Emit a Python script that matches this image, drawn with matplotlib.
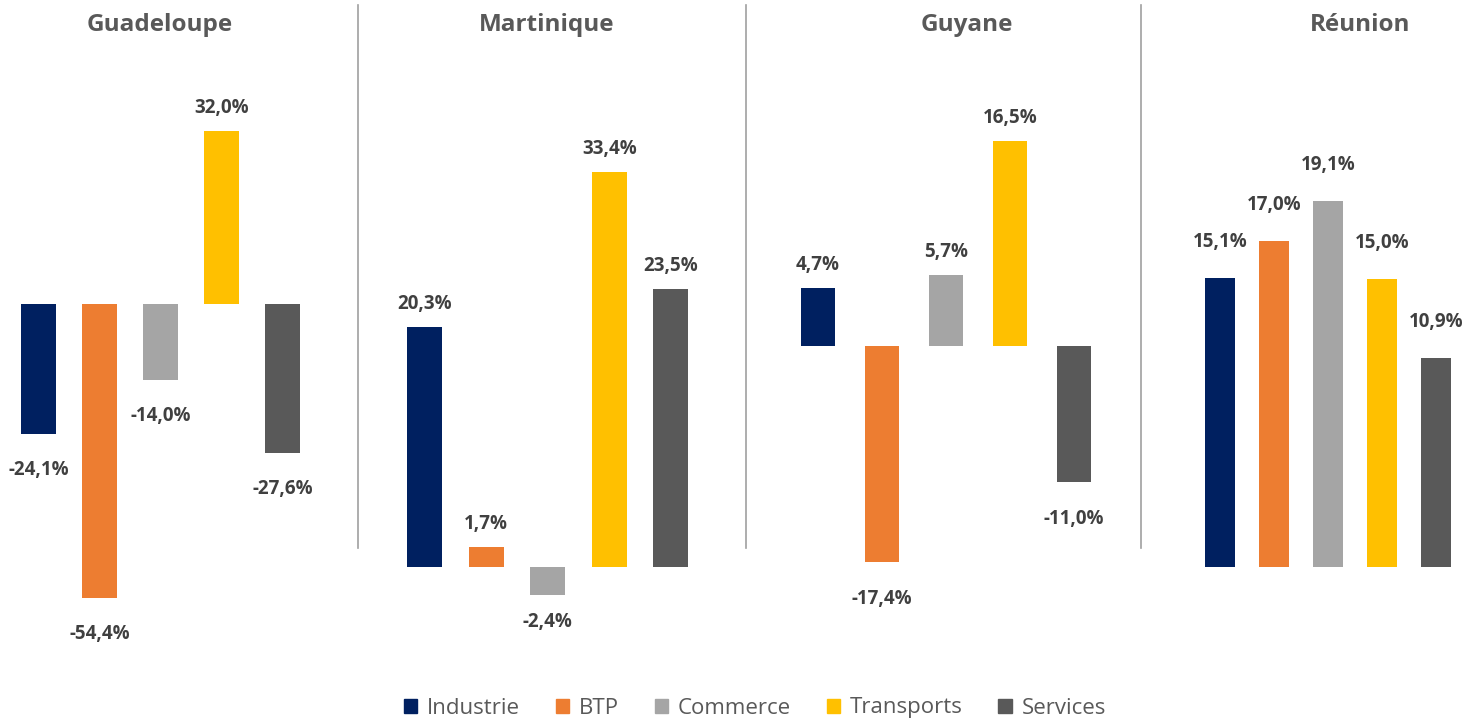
import matplotlib
matplotlib.use("Agg")
import matplotlib.pyplot as plt
from matplotlib.lines import Line2D
from matplotlib.patches import Patch

plt.rcParams['font.family'] = ['Open Sans', 'DejaVu Sans']

regions = ['Guadeloupe', 'Martinique', 'Guyane', 'Réunion']
sectors = ['Industrie', 'BTP', 'Commerce', 'Transports', 'Services']
guadeloupe = [-24.1, -54.4, -14.0, 32.0, -27.6]
martinique = [20.3, 1.7, -2.4, 33.4, 23.5]
guyane = [4.7, -17.4, 5.7, 16.5, -11.0]
reunion = [15.1, 17.0, 19.1, 15.0, 10.9]
series = [guadeloupe, martinique, guyane, reunion]

colors = ['#002060', '#ED7D31', '#A5A5A5', '#FFC000', '#595959']

W, H = 1479, 725
# panel layout in pixels: left, right, zero line y, px per %, bar width, label offsets (above, below)
panels = [
    (8, 313, 304, 5.4, 0.574, 23, 36),
    (394, 701.5, 567, 11.83, 0.57, 23, 27),
    (786, 1106, 346, 12.4, 0.52, 23, 37),
    (1193, 1463, 567, 19.17, 0.57, 36, 36),
]
title_x = [160, 547, 967, 1360]

fig = plt.figure(figsize=(W / 100, H / 100), dpi=100)

for vals, name, (L, R, y0, s, bw, up, down), tx in zip(series, regions, panels, title_x):
    ax = fig.add_axes([L / W, 0, (R - L) / W, 1])
    x = range(len(vals))
    ax.bar(x, vals, width=bw, color=colors)
    ax.set_xlim(-0.5, 4.5)
    ax.set_ylim((y0 - H) / s, y0 / s)
    ax.axis('off')
    for i, v in enumerate(vals):
        off = up if v >= 0 else -down
        ax.annotate(f"{v:.1f}%".replace('.', ','), (i, v), xytext=(0, off * 0.72),
                    textcoords='offset points', ha='center', va='center',
                    fontsize=13.5, fontweight='bold', color='#404040')
    fig.text(tx / W, 1 - 25 / H, name, ha='center', va='center',
             fontsize=17.5, fontweight='bold', color='#595959')

for sx in [358, 746, 1141]:
    fig.add_artist(Line2D([sx / W, sx / W], [1 - 5 / H, 1 - 548 / H],
                          color='#A0A0A0', lw=1.2))

handles = [Patch(color=c, label=l) for c, l in zip(colors, sectors)]
fig.legend(handles=handles, loc='center', bbox_to_anchor=(755 / W, 1 - 708 / H),
           ncol=5, frameon=False, fontsize=16, handlelength=0.6, handleheight=0.6,
           handletextpad=0.45, columnspacing=1.6, labelcolor='#595959')

fig.savefig('out.png', dpi=100)
